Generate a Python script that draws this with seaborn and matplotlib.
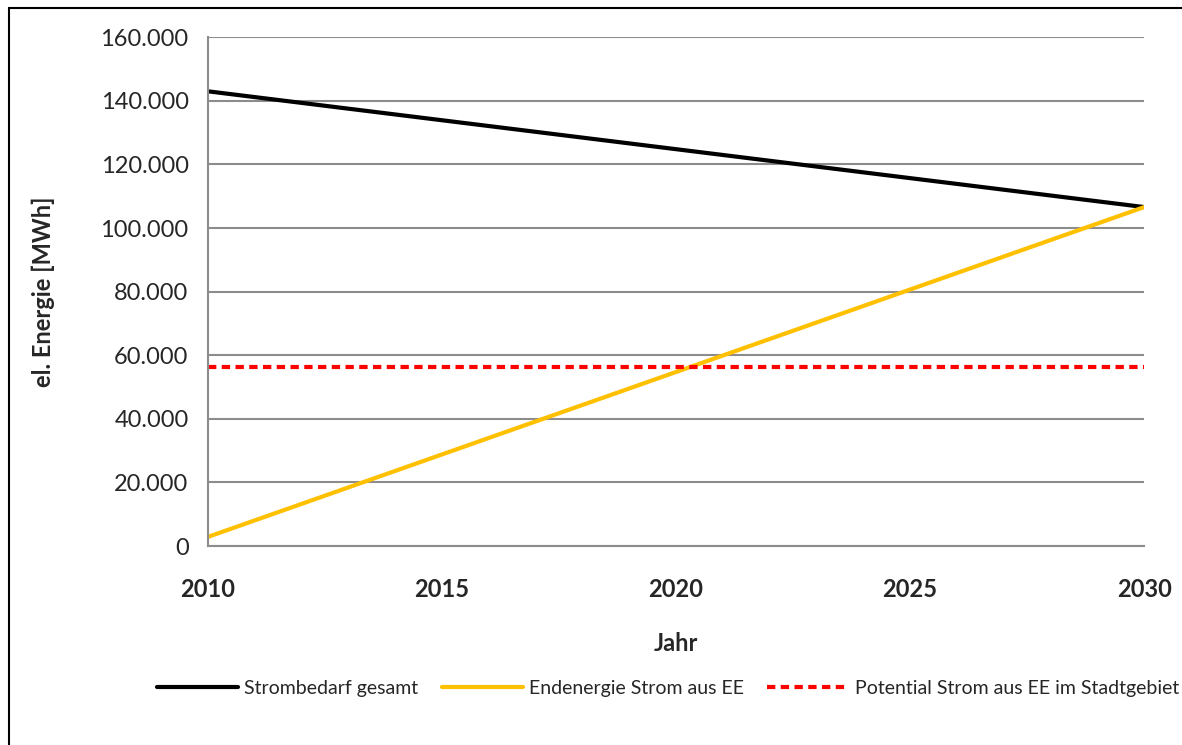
import numpy as np
import pandas as pd
import matplotlib
matplotlib.use("Agg")
import matplotlib.pyplot as plt
import seaborn as sns
from matplotlib.patches import Rectangle
from matplotlib.ticker import FuncFormatter

# values (straight lines -> endpoints)
years = [2010, 2030]
strombedarf = [143000, 106600]
endenergie_ee = [2900, 106600]
potential_ee = [56300, 56300]

sns.set_style("white")
plt.rcParams['font.family'] = ['Lato', 'DejaVu Sans']

fig = plt.figure(figsize=(11.82, 7.45), dpi=100)
ax = fig.add_axes([0.176, 0.267, 0.792, 0.683])

grid_col = "#8c8c8c"

sns.lineplot(x=years, y=strombedarf, ax=ax, color="black", lw=3,
             label="Strombedarf gesamt")
sns.lineplot(x=years, y=endenergie_ee, ax=ax, color="#ffc000", lw=3,
             label="Endenergie Strom aus EE")
sns.lineplot(x=years, y=potential_ee, ax=ax, color="#ff0000", lw=3,
             linestyle=(0, (2, 1.3)), label="Potential Strom aus EE im Stadtgebiet")

ax.set_xlim(2010, 2030)
ax.set_ylim(0, 160000)
ax.set_xticks([2010, 2015, 2020, 2025, 2030])
ax.set_yticks(np.arange(0, 160001, 20000))
ax.yaxis.set_major_formatter(FuncFormatter(lambda v, p: f"{int(v):,}".replace(",", ".")))

ax.grid(axis="y", color=grid_col, lw=1.5)
ax.set_axisbelow(True)
for s in ["top", "right"]:
    ax.spines[s].set_visible(False)
for s in ["left", "bottom"]:
    ax.spines[s].set_color(grid_col)
    ax.spines[s].set_linewidth(1.5)

ax.tick_params(axis="y", length=8, width=1.5, color=grid_col, labelsize=17, pad=6)
ax.tick_params(axis="x", length=8, width=1.5, color=grid_col, labelsize=17, pad=15)
for lbl in ax.get_xticklabels():
    lbl.set_fontweight("bold")

ax.set_xlabel("Jahr", fontsize=17, fontweight="bold", labelpad=22)
ax.set_ylabel("el. Energie [MWh]", fontsize=17, fontweight="bold", labelpad=33)

ax.legend(loc="center", bbox_to_anchor=(0.565, 0.0765), bbox_transform=fig.transFigure,
          ncol=3, frameon=False, fontsize=14, handlelength=4.2, columnspacing=1.2,
          handletextpad=0.3)

# outer chart border (right and bottom edges lie outside the picture)
fig.patches.append(Rectangle((9 / 1182, -0.05), 1.2, 1.05 - 8 / 745,
                             transform=fig.transFigure, fill=False,
                             edgecolor="black", lw=1.5))

fig.savefig("out.png", dpi=100)
